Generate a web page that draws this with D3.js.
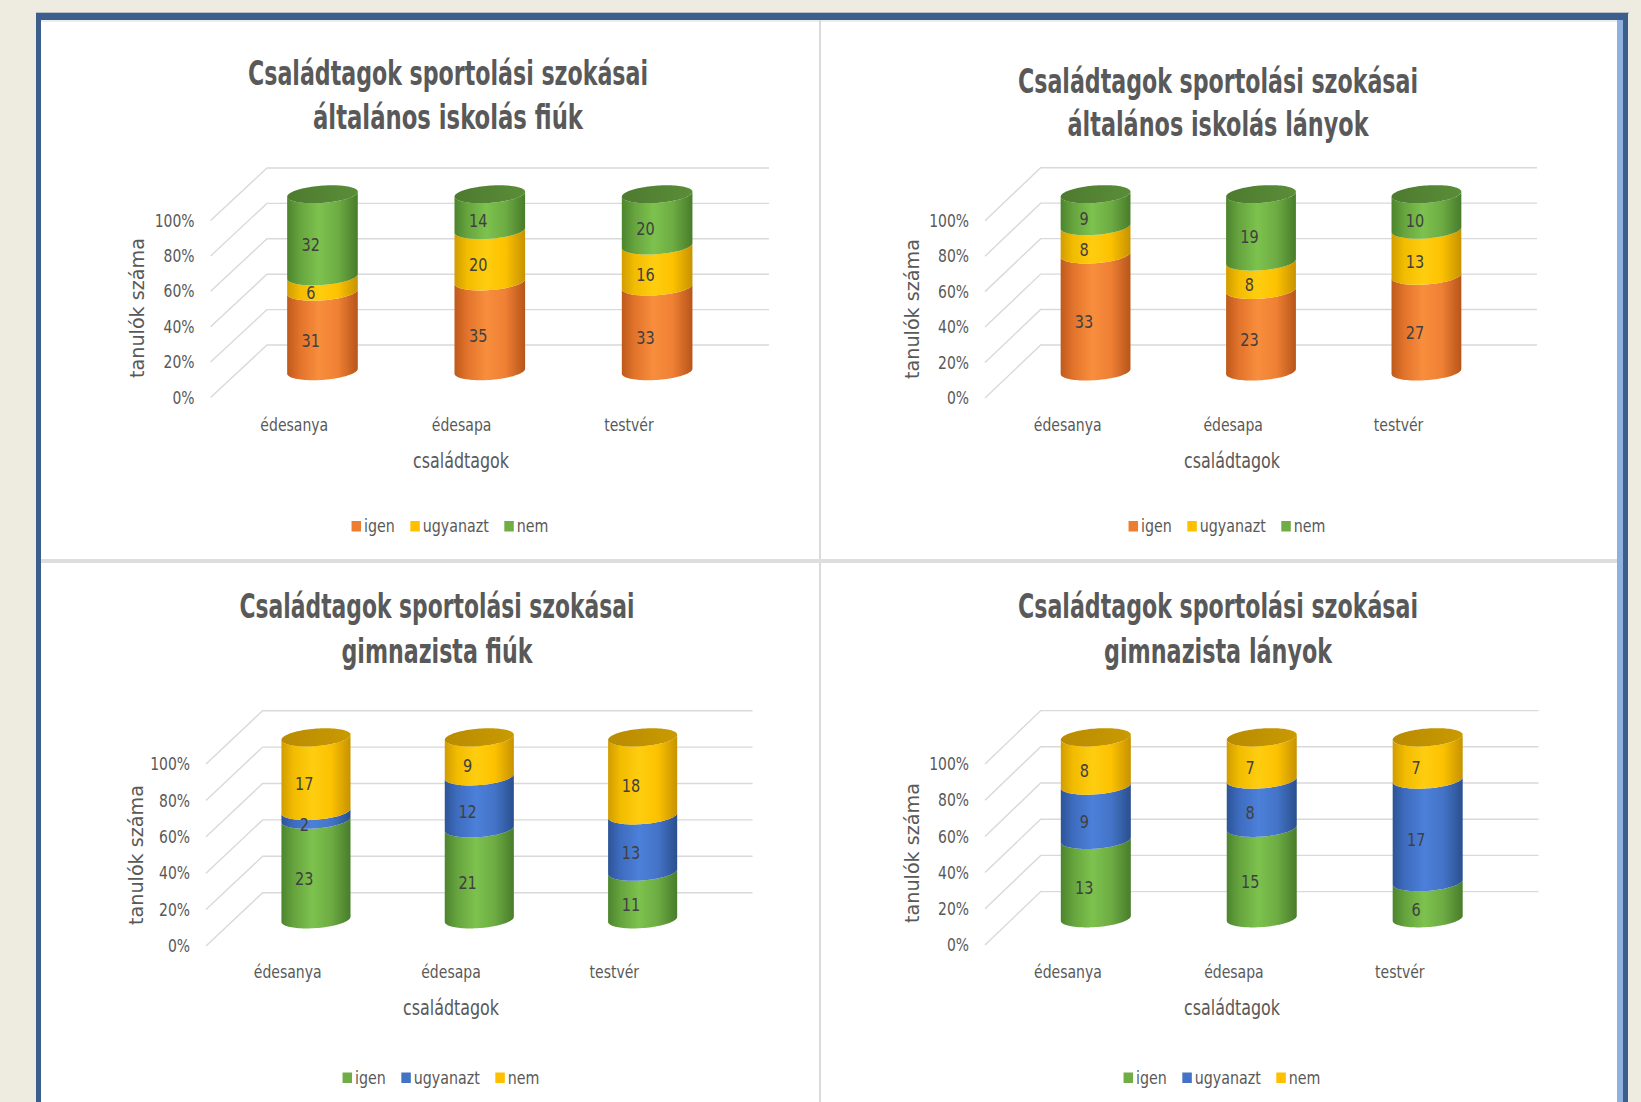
<!DOCTYPE html>
<html><head><meta charset="utf-8">
<script src="https://cdn.jsdelivr.net/npm/d3@7"></script>
<style>
body{margin:0;background:#EEEBE0;overflow:hidden}
svg{display:block}
text{font-family:"Liberation Sans Narrow","DejaVu Sans Condensed","Roboto",sans-serif}
</style></head>
<body><svg id="c" width="1641" height="1102"></svg>
<script>
// ---------- data ----------
const categories = ["édesanya", "édesapa", "testvér"];
const seriesNames = ["igen", "ugyanazt", "nem"];
const yTicks = [0, 0.2, 0.4, 0.6, 0.8, 1];
const titleMain = "Családtagok sportolási szokásai";
const subTitles = ["általános iskolás fiúk", "általános iskolás lányok", "gimnazista fiúk", "gimnazista lányok"];
const xAxisTitle = "családtagok";
const yAxisTitle = "tanulók száma";

// általános iskolás fiúk
const altFiuIgen = [31, 35, 33];
const altFiuUgyanazt = [6, 20, 16];
const altFiuNem = [32, 14, 20];
// általános iskolás lányok
const altLanyIgen = [33, 23, 27];
const altLanyUgyanazt = [8, 8, 13];
const altLanyNem = [9, 19, 10];
// gimnazista fiúk
const gimFiuIgen = [23, 21, 11];
const gimFiuUgyanazt = [2, 12, 13];
const gimFiuNem = [17, 9, 18];
// gimnazista lányok
const gimLanyIgen = [13, 15, 6];
const gimLanyUgyanazt = [9, 8, 17];
const gimLanyNem = [8, 7, 7];

const colorsTop = ["orange", "yellow", "green"];
const colorsBottom = ["green", "blue", "yellow"];

// ---------- styles ----------
const palette = {
  orange: {stops: ["#BE5A1C", "#E2732B", "#F88E3D", "#EF8034", "#B7551A"], leg: "#ED7D31", cap: ["#C0621F", "#D9702A"]},
  yellow: {stops: ["#D19D00", "#F2BC00", "#FFCD10", "#FCC200", "#C79200"], leg: "#FFC000", cap: ["#B98B00", "#C99A00"]},
  green:  {stops: ["#4C842D", "#66A43E", "#7DC24E", "#6DAC43", "#497C2B"], leg: "#70AD47", cap: ["#4D7B2F", "#5A8D38"]},
  blue:   {stops: ["#2D5497", "#3E6CBF", "#4C80D9", "#4474C8", "#2A4F8E"], leg: "#4472C4", cap: ["#2C518F", "#37609F"]}
};
const FONT = "'Liberation Sans Narrow','DejaVu Sans Condensed',Roboto,sans-serif";

// narrow, tall glyphs (like the reference): move x/y into a transform and squeeze horizontally
function condense(sel, sx) {
  sel.each(function () {
    const t = d3.select(this);
    const x = +t.attr("x") || 0, y = +t.attr("y") || 0;
    t.attr("x", 0).attr("y", 0).attr("transform", `translate(${x},${y}) scale(${sx},1)`);
  });
}

const svg = d3.select("#c");
const defs = svg.append("defs");
Object.entries(palette).forEach(([k, p]) => {
  const g = defs.append("linearGradient").attr("id", "side-" + k).attr("x1", 0).attr("x2", 1).attr("y1", 0).attr("y2", 0);
  [0, 0.18, 0.45, 0.72, 1].forEach((o, i) => g.append("stop").attr("offset", o).attr("stop-color", p.stops[i]));
  const c = defs.append("linearGradient").attr("id", "cap-" + k).attr("x1", 0).attr("x2", 1).attr("y1", 0).attr("y2", 0);
  c.append("stop").attr("offset", 0).attr("stop-color", p.cap[0]);
  c.append("stop").attr("offset", 1).attr("stop-color", p.cap[1]);
});

// ---------- slide frame ----------
svg.append("rect").attr("x", 0).attr("y", 0).attr("width", 1641).attr("height", 1102).attr("fill", "#EEEBE0");
svg.append("rect").attr("x", 36).attr("y", 12).attr("width", 1593).attr("height", 2).attr("fill", "#B9BEC6");
svg.append("rect").attr("x", 41).attr("y", 20).attr("width", 1576).attr("height", 1082).attr("fill", "#FFFFFF");
svg.append("rect").attr("x", 36).attr("y", 13).attr("width", 1592).attr("height", 7).attr("fill", "#3B5E8D");
svg.append("rect").attr("x", 36).attr("y", 13).attr("width", 5).attr("height", 1089).attr("fill", "#3B5E8D");
svg.append("rect").attr("x", 1623).attr("y", 13).attr("width", 5).attr("height", 1089).attr("fill", "#3B5E8D");
svg.append("rect").attr("x", 1617).attr("y", 20).attr("width", 6).attr("height", 1082).attr("fill", "#8EB1DF");
svg.append("rect").attr("x", 41).attr("y", 20).attr("width", 1576).attr("height", 2).attr("fill", "#EDEDED");
// dividers
svg.append("rect").attr("x", 819).attr("y", 20).attr("width", 2).attr("height", 1082).attr("fill", "#DADADA");
svg.append("rect").attr("x", 41).attr("y", 559).attr("width", 1576).attr("height", 4).attr("fill", "#DEDEDE");

// ---------- charts ----------
const charts = [
  {sub: subTitles[0], series: [altFiuIgen, altFiuUgyanazt, altFiuNem], colors: colorsTop,
   x0: 210.6, W: 502, yBot: 397.5, yTop: 220.5, dx: 56.4, dy: -52.5,
   tx: 448, t1y: 85, t2y: 128.5, t1w: 400, t2w: 270, ytx: 138, yty: 308,
   catY: 430.5, xtx: 461, xty: 467.5, legX: 450, legY: 532},
  {sub: subTitles[1], series: [altLanyIgen, altLanyUgyanazt, altLanyNem], colors: colorsTop,
   x0: 985, W: 496.3, yBot: 398, yTop: 220.7, dx: 55.7, dy: -53,
   tx: 1218, t1y: 92.5, t2y: 135.5, t1w: 400, t2w: 301, ytx: 913, yty: 309,
   catY: 430.5, xtx: 1232, xty: 467.5, legX: 1227, legY: 532},
  {sub: subTitles[2], series: [gimFiuIgen, gimFiuUgyanazt, gimFiuNem], colors: colorsBottom,
   x0: 206, W: 490, yBot: 946, yTop: 764, dx: 56.6, dy: -53.3,
   tx: 437, t1y: 618, t2y: 663, t1w: 395, t2w: 191, ytx: 136.5, yty: 855,
   catY: 977.5, xtx: 451, xty: 1014.5, legX: 441, legY: 1083.5},
  {sub: subTitles[3], series: [gimLanyIgen, gimLanyUgyanazt, gimLanyNem], colors: colorsBottom,
   x0: 985, W: 497.8, yBot: 945, yTop: 764, dx: 55.7, dy: -53.4,
   tx: 1218, t1y: 618, t2y: 663, t1w: 400, t2w: 228, ytx: 913, yty: 853,
   catY: 977.5, xtx: 1232, xty: 1014.5, legX: 1222, legY: 1083.5}
];

const K = 0.171;        // cylinder depth radius as fraction of full depth
const RFRAC = 0.203;    // cylinder x-radius as fraction of band
const line = d3.line();

function arcPts(cx, cy, r, ex, ey, ta, tb, n) {
  const pts = [];
  for (let i = 0; i <= n; i++) {
    const t = ta + (tb - ta) * i / n;
    pts.push([cx + r * Math.cos(t) + ex * Math.sin(t), cy + ey * Math.sin(t)]);
  }
  return pts;
}

charts.forEach(c => {
  const g = svg.append("g");
  // titles
  g.append("text").attr("x", c.tx).attr("y", c.t1y).attr("text-anchor", "middle")
    .attr("font-size", 33).attr("font-weight", "bold").attr("fill", "#595959")
    .attr("textLength", c.t1w).attr("lengthAdjust", "spacingAndGlyphs").text(titleMain);
  g.append("text").attr("x", c.tx).attr("y", c.t2y).attr("text-anchor", "middle")
    .attr("font-size", 33).attr("font-weight", "bold").attr("fill", "#595959")
    .attr("textLength", c.t2w).attr("lengthAdjust", "spacingAndGlyphs").text(c.sub);

  const y = d3.scaleLinear().domain([0, 1]).range([c.yBot, c.yTop]);
  const x = d3.scaleBand().domain(categories).range([c.x0, c.x0 + c.W]);

  // 3D gridlines (side wall diagonals + back wall)
  g.append("g").selectAll("path").data(yTicks).join("path")
    .attr("d", v => line([[c.x0, y(v)], [c.x0 + c.dx, y(v) + c.dy], [c.x0 + c.dx + c.W, y(v) + c.dy]]))
    .attr("fill", "none").attr("stroke", "#D9D9D9").attr("stroke-width", 1.4);

  // y axis
  const ya = g.append("g").attr("transform", `translate(${c.x0},0)`)
    .call(d3.axisLeft(y).tickValues(yTicks).tickFormat(d3.format(".0%")).tickSize(0).tickPadding(16));
  ya.select(".domain").remove();
  ya.selectAll("text").attr("font-size", 17.5).attr("fill", "#595959").style("font-family", FONT)
    .call(condense, 0.886);

  // x axis (category labels on front floor edge)
  const xa = g.append("g").attr("transform", `translate(0,${c.catY})`)
    .call(d3.axisBottom(x).tickSize(0).tickPadding(0));
  xa.select(".domain").remove();
  xa.selectAll("text").attr("dy", null).attr("y", 0).attr("font-size", 18.5).attr("fill", "#595959")
    .style("font-family", FONT).call(condense, 0.843);

  // axis titles
  g.append("text").attr("x", c.xtx).attr("y", c.xty).attr("text-anchor", "middle")
    .attr("font-size", 20.5).attr("fill", "#595959").text(xAxisTitle).call(condense, 0.863);
  g.append("text").attr("transform", `translate(${c.ytx + 6},${c.yty}) rotate(-90)`).attr("text-anchor", "middle")
    .attr("font-size", 19).attr("fill", "#595959")
    .attr("textLength", 140).attr("lengthAdjust", "spacingAndGlyphs").text(yAxisTitle);

  // stacked cylinders
  const rows = categories.map((cat, i) => {
    const o = {cat};
    seriesNames.forEach((s, j) => o[s] = c.series[j][i]);
    return o;
  });
  const stacked = d3.stack().keys(seriesNames).offset(d3.stackOffsetExpand)(rows);
  const band = x.bandwidth();
  const r = band * RFRAC;
  const ex = K * c.dx, ey = K * c.dy;
  const t0 = Math.atan2(ex, r);
  const cyl = g.append("g");
  const labels = g.append("g");
  categories.forEach((cat, i) => {
    const cx = x(cat) + band / 2 + c.dx / 2;
    const yc = v => y(v) + c.dy / 2;
    stacked.forEach((s, j) => {
      const d = s[i];
      const yLo = yc(d[0]), yHi = yc(d[1]);
      const top = arcPts(cx, yHi, r, ex, ey, t0 + Math.PI, t0 + 2 * Math.PI, 48);
      const bot = arcPts(cx, yLo, r, ex, ey, t0 + 2 * Math.PI, t0 + Math.PI, 48);
      cyl.append("path").attr("d", line(top.concat(bot)) + "Z")
        .attr("fill", `url(#side-${c.colors[j]})`);
      const val = c.series[j][i];
      const ym = yc((d[0] + d[1]) / 2);
      labels.append("text").attr("x", cx - ex - 2).attr("y", ym - ey)
        .attr("text-anchor", "middle").attr("dominant-baseline", "central")
        .attr("font-size", 17.5).attr("fill", "#404040").text(val).call(condense, 0.92);
    });
    // top cap
    const topColor = c.colors[seriesNames.length - 1];
    const capPts = arcPts(cx, yc(1), r, ex, ey, 0, 2 * Math.PI, 96);
    cyl.append("path").attr("d", line(capPts) + "Z").attr("fill", `url(#cap-${topColor})`);
  });

  // legend
  const lg = g.append("g");
  const LSX = 0.855;
  let cursor = 0;
  seriesNames.forEach((s, j) => {
    lg.append("rect").attr("x", cursor).attr("y", c.legY - 11).attr("width", 9.5).attr("height", 10.5)
      .attr("fill", palette[c.colors[j]].leg);
    const t = lg.append("text").attr("x", cursor + 12.5).attr("y", c.legY)
      .attr("font-size", 18.5).attr("fill", "#595959").text(s);
    const w = t.node().getComputedTextLength() * LSX;
    t.call(condense, LSX);
    cursor += 12.5 + w + 15.5;
  });
  const total = cursor - 15.5;
  lg.attr("transform", `translate(${c.legX - total / 2},0)`);
});
</script>
</body></html>
